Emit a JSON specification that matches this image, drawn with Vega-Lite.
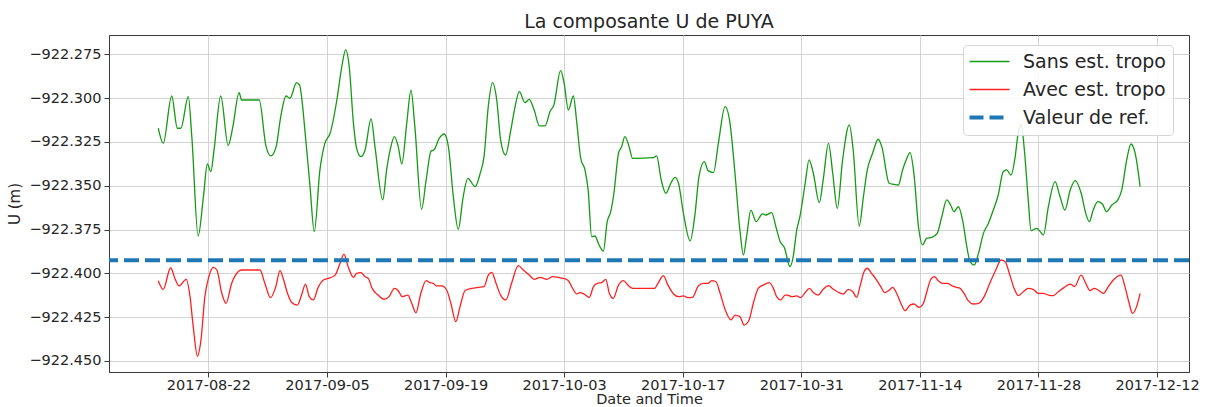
{
  "$schema": "https://vega.github.io/schema/vega-lite/v6.json",
  "width": 1080,
  "height": 337,
  "autosize": {"type": "none"},
  "padding": {"left": 109, "top": 35, "right": 23, "bottom": 35},
  "title": {"text": "La composante U de PUYA", "anchor": "middle"},
  "datasets": {
    "lines": [
      {"t":"2017-08-16T02:00","u":-922.3172,"s":"Sans est. tropo"},
      {"t":"2017-08-16T16:00","u":-922.3258,"s":"Sans est. tropo"},
      {"t":"2017-08-17T16:00","u":-922.2988,"s":"Sans est. tropo"},
      {"t":"2017-08-18T08:00","u":-922.3172,"s":"Sans est. tropo"},
      {"t":"2017-08-18T18:00","u":-922.3172,"s":"Sans est. tropo"},
      {"t":"2017-08-19T15:00","u":-922.2992,"s":"Sans est. tropo"},
      {"t":"2017-08-20T01:00","u":-922.3220,"s":"Sans est. tropo"},
      {"t":"2017-08-20T19:00","u":-922.3787,"s":"Sans est. tropo"},
      {"t":"2017-08-21T10:00","u":-922.3562,"s":"Sans est. tropo"},
      {"t":"2017-08-21T21:00","u":-922.3376,"s":"Sans est. tropo"},
      {"t":"2017-08-22T07:00","u":-922.3420,"s":"Sans est. tropo"},
      {"t":"2017-08-22T16:00","u":-922.3296,"s":"Sans est. tropo"},
      {"t":"2017-08-23T11:00","u":-922.2988,"s":"Sans est. tropo"},
      {"t":"2017-08-24T08:00","u":-922.3271,"s":"Sans est. tropo"},
      {"t":"2017-08-24T21:00","u":-922.3167,"s":"Sans est. tropo"},
      {"t":"2017-08-25T15:00","u":-922.2969,"s":"Sans est. tropo"},
      {"t":"2017-08-25T22:00","u":-922.3011,"s":"Sans est. tropo"},
      {"t":"2017-08-28T00:00","u":-922.3011,"s":"Sans est. tropo"},
      {"t":"2017-08-28T19:00","u":-922.3273,"s":"Sans est. tropo"},
      {"t":"2017-08-29T09:00","u":-922.3330,"s":"Sans est. tropo"},
      {"t":"2017-08-30T00:00","u":-922.3277,"s":"Sans est. tropo"},
      {"t":"2017-08-30T13:00","u":-922.3106,"s":"Sans est. tropo"},
      {"t":"2017-08-31T04:00","u":-922.2988,"s":"Sans est. tropo"},
      {"t":"2017-08-31T15:00","u":-922.3001,"s":"Sans est. tropo"},
      {"t":"2017-09-01T10:00","u":-922.2912,"s":"Sans est. tropo"},
      {"t":"2017-09-01T18:00","u":-922.2925,"s":"Sans est. tropo"},
      {"t":"2017-09-02T12:00","u":-922.3239,"s":"Sans est. tropo"},
      {"t":"2017-09-03T00:00","u":-922.3505,"s":"Sans est. tropo"},
      {"t":"2017-09-03T12:00","u":-922.3762,"s":"Sans est. tropo"},
      {"t":"2017-09-04T04:00","u":-922.3410,"s":"Sans est. tropo"},
      {"t":"2017-09-04T18:00","u":-922.3258,"s":"Sans est. tropo"},
      {"t":"2017-09-05T09:00","u":-922.3201,"s":"Sans est. tropo"},
      {"t":"2017-09-06T04:00","u":-922.3011,"s":"Sans est. tropo"},
      {"t":"2017-09-06T18:00","u":-922.2820,"s":"Sans est. tropo"},
      {"t":"2017-09-07T05:00","u":-922.2725,"s":"Sans est. tropo"},
      {"t":"2017-09-07T15:00","u":-922.2820,"s":"Sans est. tropo"},
      {"t":"2017-09-08T03:00","u":-922.3144,"s":"Sans est. tropo"},
      {"t":"2017-09-08T12:00","u":-922.3287,"s":"Sans est. tropo"},
      {"t":"2017-09-09T00:00","u":-922.3334,"s":"Sans est. tropo"},
      {"t":"2017-09-09T12:00","u":-922.3296,"s":"Sans est. tropo"},
      {"t":"2017-09-10T05:00","u":-922.3119,"s":"Sans est. tropo"},
      {"t":"2017-09-10T16:00","u":-922.3277,"s":"Sans est. tropo"},
      {"t":"2017-09-11T14:00","u":-922.3581,"s":"Sans est. tropo"},
      {"t":"2017-09-12T01:00","u":-922.3410,"s":"Sans est. tropo"},
      {"t":"2017-09-12T11:00","u":-922.3296,"s":"Sans est. tropo"},
      {"t":"2017-09-12T23:00","u":-922.3220,"s":"Sans est. tropo"},
      {"t":"2017-09-13T10:00","u":-922.3277,"s":"Sans est. tropo"},
      {"t":"2017-09-13T20:00","u":-922.3376,"s":"Sans est. tropo"},
      {"t":"2017-09-14T10:00","u":-922.3144,"s":"Sans est. tropo"},
      {"t":"2017-09-14T22:00","u":-922.2954,"s":"Sans est. tropo"},
      {"t":"2017-09-15T09:00","u":-922.3163,"s":"Sans est. tropo"},
      {"t":"2017-09-16T04:00","u":-922.3635,"s":"Sans est. tropo"},
      {"t":"2017-09-16T17:00","u":-922.3467,"s":"Sans est. tropo"},
      {"t":"2017-09-17T07:00","u":-922.3302,"s":"Sans est. tropo"},
      {"t":"2017-09-17T15:00","u":-922.3296,"s":"Sans est. tropo"},
      {"t":"2017-09-18T06:00","u":-922.3230,"s":"Sans est. tropo"},
      {"t":"2017-09-18T20:00","u":-922.3205,"s":"Sans est. tropo"},
      {"t":"2017-09-19T08:00","u":-922.3277,"s":"Sans est. tropo"},
      {"t":"2017-09-19T22:00","u":-922.3562,"s":"Sans est. tropo"},
      {"t":"2017-09-20T12:00","u":-922.3749,"s":"Sans est. tropo"},
      {"t":"2017-09-21T02:00","u":-922.3562,"s":"Sans est. tropo"},
      {"t":"2017-09-21T15:00","u":-922.3458,"s":"Sans est. tropo"},
      {"t":"2017-09-22T12:00","u":-922.3505,"s":"Sans est. tropo"},
      {"t":"2017-09-23T02:00","u":-922.3430,"s":"Sans est. tropo"},
      {"t":"2017-09-23T13:00","u":-922.3334,"s":"Sans est. tropo"},
      {"t":"2017-09-24T01:00","u":-922.3049,"s":"Sans est. tropo"},
      {"t":"2017-09-24T13:00","u":-922.2912,"s":"Sans est. tropo"},
      {"t":"2017-09-25T01:00","u":-922.3011,"s":"Sans est. tropo"},
      {"t":"2017-09-25T12:00","u":-922.3239,"s":"Sans est. tropo"},
      {"t":"2017-09-26T02:00","u":-922.3325,"s":"Sans est. tropo"},
      {"t":"2017-09-26T17:00","u":-922.3182,"s":"Sans est. tropo"},
      {"t":"2017-09-27T05:00","u":-922.3049,"s":"Sans est. tropo"},
      {"t":"2017-09-27T17:00","u":-922.2963,"s":"Sans est. tropo"},
      {"t":"2017-09-28T09:00","u":-922.3026,"s":"Sans est. tropo"},
      {"t":"2017-09-28T21:00","u":-922.3007,"s":"Sans est. tropo"},
      {"t":"2017-09-29T11:00","u":-922.3068,"s":"Sans est. tropo"},
      {"t":"2017-09-30T02:00","u":-922.3159,"s":"Sans est. tropo"},
      {"t":"2017-09-30T18:00","u":-922.3159,"s":"Sans est. tropo"},
      {"t":"2017-10-01T08:00","u":-922.3077,"s":"Sans est. tropo"},
      {"t":"2017-10-01T19:00","u":-922.3039,"s":"Sans est. tropo"},
      {"t":"2017-10-02T14:00","u":-922.2843,"s":"Sans est. tropo"},
      {"t":"2017-10-03T00:00","u":-922.2916,"s":"Sans est. tropo"},
      {"t":"2017-10-03T12:00","u":-922.3068,"s":"Sans est. tropo"},
      {"t":"2017-10-04T02:00","u":-922.2988,"s":"Sans est. tropo"},
      {"t":"2017-10-04T12:00","u":-922.3144,"s":"Sans est. tropo"},
      {"t":"2017-10-04T23:00","u":-922.3344,"s":"Sans est. tropo"},
      {"t":"2017-10-05T11:00","u":-922.3410,"s":"Sans est. tropo"},
      {"t":"2017-10-05T20:00","u":-922.3524,"s":"Sans est. tropo"},
      {"t":"2017-10-06T06:00","u":-922.3791,"s":"Sans est. tropo"},
      {"t":"2017-10-06T15:00","u":-922.3787,"s":"Sans est. tropo"},
      {"t":"2017-10-07T03:00","u":-922.3838,"s":"Sans est. tropo"},
      {"t":"2017-10-07T15:00","u":-922.3873,"s":"Sans est. tropo"},
      {"t":"2017-10-08T02:00","u":-922.3705,"s":"Sans est. tropo"},
      {"t":"2017-10-08T12:00","u":-922.3648,"s":"Sans est. tropo"},
      {"t":"2017-10-08T21:00","u":-922.3543,"s":"Sans est. tropo"},
      {"t":"2017-10-09T10:00","u":-922.3315,"s":"Sans est. tropo"},
      {"t":"2017-10-09T19:00","u":-922.3277,"s":"Sans est. tropo"},
      {"t":"2017-10-10T04:00","u":-922.3220,"s":"Sans est. tropo"},
      {"t":"2017-10-10T16:00","u":-922.3277,"s":"Sans est. tropo"},
      {"t":"2017-10-11T02:00","u":-922.3344,"s":"Sans est. tropo"},
      {"t":"2017-10-13T13:00","u":-922.3340,"s":"Sans est. tropo"},
      {"t":"2017-10-13T22:00","u":-922.3330,"s":"Sans est. tropo"},
      {"t":"2017-10-14T11:00","u":-922.3467,"s":"Sans est. tropo"},
      {"t":"2017-10-15T00:00","u":-922.3543,"s":"Sans est. tropo"},
      {"t":"2017-10-15T15:00","u":-922.3483,"s":"Sans est. tropo"},
      {"t":"2017-10-16T02:00","u":-922.3452,"s":"Sans est. tropo"},
      {"t":"2017-10-16T12:00","u":-922.3486,"s":"Sans est. tropo"},
      {"t":"2017-10-17T02:00","u":-922.3658,"s":"Sans est. tropo"},
      {"t":"2017-10-17T21:00","u":-922.3815,"s":"Sans est. tropo"},
      {"t":"2017-10-18T11:00","u":-922.3658,"s":"Sans est. tropo"},
      {"t":"2017-10-18T22:00","u":-922.3448,"s":"Sans est. tropo"},
      {"t":"2017-10-19T13:00","u":-922.3363,"s":"Sans est. tropo"},
      {"t":"2017-10-20T00:00","u":-922.3414,"s":"Sans est. tropo"},
      {"t":"2017-10-20T15:00","u":-922.3425,"s":"Sans est. tropo"},
      {"t":"2017-10-21T05:00","u":-922.3258,"s":"Sans est. tropo"},
      {"t":"2017-10-22T00:00","u":-922.3049,"s":"Sans est. tropo"},
      {"t":"2017-10-22T14:00","u":-922.3144,"s":"Sans est. tropo"},
      {"t":"2017-10-23T04:00","u":-922.3429,"s":"Sans est. tropo"},
      {"t":"2017-10-23T18:00","u":-922.3753,"s":"Sans est. tropo"},
      {"t":"2017-10-24T04:00","u":-922.3895,"s":"Sans est. tropo"},
      {"t":"2017-10-24T13:00","u":-922.3791,"s":"Sans est. tropo"},
      {"t":"2017-10-25T01:00","u":-922.3639,"s":"Sans est. tropo"},
      {"t":"2017-10-25T16:00","u":-922.3705,"s":"Sans est. tropo"},
      {"t":"2017-10-26T10:00","u":-922.3661,"s":"Sans est. tropo"},
      {"t":"2017-10-26T19:00","u":-922.3667,"s":"Sans est. tropo"},
      {"t":"2017-10-27T12:00","u":-922.3654,"s":"Sans est. tropo"},
      {"t":"2017-10-28T00:00","u":-922.3734,"s":"Sans est. tropo"},
      {"t":"2017-10-28T12:00","u":-922.3819,"s":"Sans est. tropo"},
      {"t":"2017-10-29T00:00","u":-922.3852,"s":"Sans est. tropo"},
      {"t":"2017-10-29T16:00","u":-922.3962,"s":"Sans est. tropo"},
      {"t":"2017-10-30T01:00","u":-922.3905,"s":"Sans est. tropo"},
      {"t":"2017-10-30T11:00","u":-922.3753,"s":"Sans est. tropo"},
      {"t":"2017-10-30T20:00","u":-922.3677,"s":"Sans est. tropo"},
      {"t":"2017-10-31T11:00","u":-922.3486,"s":"Sans est. tropo"},
      {"t":"2017-10-31T22:00","u":-922.3353,"s":"Sans est. tropo"},
      {"t":"2017-11-01T10:00","u":-922.3429,"s":"Sans est. tropo"},
      {"t":"2017-11-02T03:00","u":-922.3597,"s":"Sans est. tropo"},
      {"t":"2017-11-02T14:00","u":-922.3467,"s":"Sans est. tropo"},
      {"t":"2017-11-03T05:00","u":-922.3258,"s":"Sans est. tropo"},
      {"t":"2017-11-03T17:00","u":-922.3429,"s":"Sans est. tropo"},
      {"t":"2017-11-04T06:00","u":-922.3629,"s":"Sans est. tropo"},
      {"t":"2017-11-04T21:00","u":-922.3353,"s":"Sans est. tropo"},
      {"t":"2017-11-05T16:00","u":-922.3153,"s":"Sans est. tropo"},
      {"t":"2017-11-06T03:00","u":-922.3296,"s":"Sans est. tropo"},
      {"t":"2017-11-06T20:00","u":-922.3730,"s":"Sans est. tropo"},
      {"t":"2017-11-07T08:00","u":-922.3562,"s":"Sans est. tropo"},
      {"t":"2017-11-07T19:00","u":-922.3410,"s":"Sans est. tropo"},
      {"t":"2017-11-08T10:00","u":-922.3315,"s":"Sans est. tropo"},
      {"t":"2017-11-09T02:00","u":-922.3235,"s":"Sans est. tropo"},
      {"t":"2017-11-09T12:00","u":-922.3277,"s":"Sans est. tropo"},
      {"t":"2017-11-10T09:00","u":-922.3486,"s":"Sans est. tropo"},
      {"t":"2017-11-10T21:00","u":-922.3492,"s":"Sans est. tropo"},
      {"t":"2017-11-11T11:00","u":-922.3496,"s":"Sans est. tropo"},
      {"t":"2017-11-11T23:00","u":-922.3410,"s":"Sans est. tropo"},
      {"t":"2017-11-12T09:00","u":-922.3353,"s":"Sans est. tropo"},
      {"t":"2017-11-12T20:00","u":-922.3311,"s":"Sans est. tropo"},
      {"t":"2017-11-13T07:00","u":-922.3429,"s":"Sans est. tropo"},
      {"t":"2017-11-13T20:00","u":-922.3734,"s":"Sans est. tropo"},
      {"t":"2017-11-14T08:00","u":-922.3838,"s":"Sans est. tropo"},
      {"t":"2017-11-14T19:00","u":-922.3800,"s":"Sans est. tropo"},
      {"t":"2017-11-15T10:00","u":-922.3795,"s":"Sans est. tropo"},
      {"t":"2017-11-16T01:00","u":-922.3772,"s":"Sans est. tropo"},
      {"t":"2017-11-16T14:00","u":-922.3677,"s":"Sans est. tropo"},
      {"t":"2017-11-17T04:00","u":-922.3581,"s":"Sans est. tropo"},
      {"t":"2017-11-17T15:00","u":-922.3610,"s":"Sans est. tropo"},
      {"t":"2017-11-18T01:00","u":-922.3648,"s":"Sans est. tropo"},
      {"t":"2017-11-18T13:00","u":-922.3620,"s":"Sans est. tropo"},
      {"t":"2017-11-19T01:00","u":-922.3696,"s":"Sans est. tropo"},
      {"t":"2017-11-19T13:00","u":-922.3848,"s":"Sans est. tropo"},
      {"t":"2017-11-19T22:00","u":-922.3933,"s":"Sans est. tropo"},
      {"t":"2017-11-20T10:00","u":-922.3952,"s":"Sans est. tropo"},
      {"t":"2017-11-20T22:00","u":-922.3886,"s":"Sans est. tropo"},
      {"t":"2017-11-21T12:00","u":-922.3772,"s":"Sans est. tropo"},
      {"t":"2017-11-22T02:00","u":-922.3715,"s":"Sans est. tropo"},
      {"t":"2017-11-22T16:00","u":-922.3639,"s":"Sans est. tropo"},
      {"t":"2017-11-23T06:00","u":-922.3553,"s":"Sans est. tropo"},
      {"t":"2017-11-23T20:00","u":-922.3420,"s":"Sans est. tropo"},
      {"t":"2017-11-24T06:00","u":-922.3410,"s":"Sans est. tropo"},
      {"t":"2017-11-24T18:00","u":-922.3439,"s":"Sans est. tropo"},
      {"t":"2017-11-25T06:00","u":-922.3334,"s":"Sans est. tropo"},
      {"t":"2017-11-25T13:00","u":-922.3220,"s":"Sans est. tropo"},
      {"t":"2017-11-25T23:00","u":-922.3153,"s":"Sans est. tropo"},
      {"t":"2017-11-26T08:00","u":-922.3296,"s":"Sans est. tropo"},
      {"t":"2017-11-26T19:00","u":-922.3581,"s":"Sans est. tropo"},
      {"t":"2017-11-27T03:00","u":-922.3756,"s":"Sans est. tropo"},
      {"t":"2017-11-27T19:00","u":-922.3743,"s":"Sans est. tropo"},
      {"t":"2017-11-28T05:00","u":-922.3762,"s":"Sans est. tropo"},
      {"t":"2017-11-28T14:00","u":-922.3781,"s":"Sans est. tropo"},
      {"t":"2017-11-29T04:00","u":-922.3620,"s":"Sans est. tropo"},
      {"t":"2017-11-29T23:00","u":-922.3477,"s":"Sans est. tropo"},
      {"t":"2017-11-30T13:00","u":-922.3562,"s":"Sans est. tropo"},
      {"t":"2017-12-01T03:00","u":-922.3639,"s":"Sans est. tropo"},
      {"t":"2017-12-01T18:00","u":-922.3524,"s":"Sans est. tropo"},
      {"t":"2017-12-02T08:00","u":-922.3471,"s":"Sans est. tropo"},
      {"t":"2017-12-03T01:00","u":-922.3543,"s":"Sans est. tropo"},
      {"t":"2017-12-03T14:00","u":-922.3658,"s":"Sans est. tropo"},
      {"t":"2017-12-04T00:00","u":-922.3705,"s":"Sans est. tropo"},
      {"t":"2017-12-04T11:00","u":-922.3639,"s":"Sans est. tropo"},
      {"t":"2017-12-05T00:00","u":-922.3591,"s":"Sans est. tropo"},
      {"t":"2017-12-05T13:00","u":-922.3604,"s":"Sans est. tropo"},
      {"t":"2017-12-06T01:00","u":-922.3648,"s":"Sans est. tropo"},
      {"t":"2017-12-06T16:00","u":-922.3610,"s":"Sans est. tropo"},
      {"t":"2017-12-07T09:00","u":-922.3581,"s":"Sans est. tropo"},
      {"t":"2017-12-07T20:00","u":-922.3524,"s":"Sans est. tropo"},
      {"t":"2017-12-08T10:00","u":-922.3353,"s":"Sans est. tropo"},
      {"t":"2017-12-08T22:00","u":-922.3262,"s":"Sans est. tropo"},
      {"t":"2017-12-09T10:00","u":-922.3315,"s":"Sans est. tropo"},
      {"t":"2017-12-10T00:00","u":-922.3505,"s":"Sans est. tropo"},

      {"t":"2017-08-16T02:00","u":-922.4042,"s":"Avec est. tropo"},
      {"t":"2017-08-16T16:00","u":-922.4091,"s":"Avec est. tropo"},
      {"t":"2017-08-17T13:00","u":-922.3968,"s":"Avec est. tropo"},
      {"t":"2017-08-18T01:00","u":-922.4029,"s":"Avec est. tropo"},
      {"t":"2017-08-18T13:00","u":-922.4072,"s":"Avec est. tropo"},
      {"t":"2017-08-19T09:00","u":-922.4034,"s":"Avec est. tropo"},
      {"t":"2017-08-19T20:00","u":-922.4133,"s":"Avec est. tropo"},
      {"t":"2017-08-20T05:00","u":-922.4304,"s":"Avec est. tropo"},
      {"t":"2017-08-20T17:00","u":-922.4472,"s":"Avec est. tropo"},
      {"t":"2017-08-21T03:00","u":-922.4380,"s":"Avec est. tropo"},
      {"t":"2017-08-21T14:00","u":-922.4133,"s":"Avec est. tropo"},
      {"t":"2017-08-22T00:00","u":-922.4029,"s":"Avec est. tropo"},
      {"t":"2017-08-22T14:00","u":-922.3966,"s":"Avec est. tropo"},
      {"t":"2017-08-23T00:00","u":-922.3981,"s":"Avec est. tropo"},
      {"t":"2017-08-23T14:00","u":-922.4114,"s":"Avec est. tropo"},
      {"t":"2017-08-24T02:00","u":-922.4171,"s":"Avec est. tropo"},
      {"t":"2017-08-24T18:00","u":-922.4057,"s":"Avec est. tropo"},
      {"t":"2017-08-25T13:00","u":-922.3990,"s":"Avec est. tropo"},
      {"t":"2017-08-25T22:00","u":-922.3981,"s":"Avec est. tropo"},
      {"t":"2017-08-28T02:00","u":-922.3981,"s":"Avec est. tropo"},
      {"t":"2017-08-28T16:00","u":-922.4057,"s":"Avec est. tropo"},
      {"t":"2017-08-29T08:00","u":-922.4139,"s":"Avec est. tropo"},
      {"t":"2017-08-29T23:00","u":-922.4076,"s":"Avec est. tropo"},
      {"t":"2017-08-30T11:00","u":-922.3985,"s":"Avec est. tropo"},
      {"t":"2017-08-30T20:00","u":-922.4029,"s":"Avec est. tropo"},
      {"t":"2017-08-31T08:00","u":-922.4114,"s":"Avec est. tropo"},
      {"t":"2017-08-31T20:00","u":-922.4166,"s":"Avec est. tropo"},
      {"t":"2017-09-01T12:00","u":-922.4181,"s":"Avec est. tropo"},
      {"t":"2017-09-02T00:00","u":-922.4124,"s":"Avec est. tropo"},
      {"t":"2017-09-02T11:00","u":-922.4061,"s":"Avec est. tropo"},
      {"t":"2017-09-02T22:00","u":-922.4133,"s":"Avec est. tropo"},
      {"t":"2017-09-03T09:00","u":-922.4152,"s":"Avec est. tropo"},
      {"t":"2017-09-04T00:00","u":-922.4076,"s":"Avec est. tropo"},
      {"t":"2017-09-04T14:00","u":-922.4038,"s":"Avec est. tropo"},
      {"t":"2017-09-05T04:00","u":-922.4029,"s":"Avec est. tropo"},
      {"t":"2017-09-05T23:00","u":-922.4010,"s":"Avec est. tropo"},
      {"t":"2017-09-06T13:00","u":-922.3943,"s":"Avec est. tropo"},
      {"t":"2017-09-07T00:00","u":-922.3890,"s":"Avec est. tropo"},
      {"t":"2017-09-07T12:00","u":-922.3962,"s":"Avec est. tropo"},
      {"t":"2017-09-08T03:00","u":-922.4023,"s":"Avec est. tropo"},
      {"t":"2017-09-08T12:00","u":-922.4000,"s":"Avec est. tropo"},
      {"t":"2017-09-09T00:00","u":-922.3996,"s":"Avec est. tropo"},
      {"t":"2017-09-09T12:00","u":-922.4019,"s":"Avec est. tropo"},
      {"t":"2017-09-09T21:00","u":-922.4029,"s":"Avec est. tropo"},
      {"t":"2017-09-10T08:00","u":-922.4086,"s":"Avec est. tropo"},
      {"t":"2017-09-11T01:00","u":-922.4124,"s":"Avec est. tropo"},
      {"t":"2017-09-11T18:00","u":-922.4148,"s":"Avec est. tropo"},
      {"t":"2017-09-12T08:00","u":-922.4133,"s":"Avec est. tropo"},
      {"t":"2017-09-12T23:00","u":-922.4086,"s":"Avec est. tropo"},
      {"t":"2017-09-13T10:00","u":-922.4099,"s":"Avec est. tropo"},
      {"t":"2017-09-13T21:00","u":-922.4133,"s":"Avec est. tropo"},
      {"t":"2017-09-14T13:00","u":-922.4124,"s":"Avec est. tropo"},
      {"t":"2017-09-15T00:00","u":-922.4171,"s":"Avec est. tropo"},
      {"t":"2017-09-15T12:00","u":-922.4225,"s":"Avec est. tropo"},
      {"t":"2017-09-16T02:00","u":-922.4114,"s":"Avec est. tropo"},
      {"t":"2017-09-16T17:00","u":-922.4042,"s":"Avec est. tropo"},
      {"t":"2017-09-17T04:00","u":-922.4053,"s":"Avec est. tropo"},
      {"t":"2017-09-17T13:00","u":-922.4057,"s":"Avec est. tropo"},
      {"t":"2017-09-17T23:00","u":-922.4072,"s":"Avec est. tropo"},
      {"t":"2017-09-18T13:00","u":-922.4072,"s":"Avec est. tropo"},
      {"t":"2017-09-19T03:00","u":-922.4095,"s":"Avec est. tropo"},
      {"t":"2017-09-19T15:00","u":-922.4171,"s":"Avec est. tropo"},
      {"t":"2017-09-20T05:00","u":-922.4276,"s":"Avec est. tropo"},
      {"t":"2017-09-20T17:00","u":-922.4190,"s":"Avec est. tropo"},
      {"t":"2017-09-21T07:00","u":-922.4099,"s":"Avec est. tropo"},
      {"t":"2017-09-22T02:00","u":-922.4086,"s":"Avec est. tropo"},
      {"t":"2017-09-22T21:00","u":-922.4080,"s":"Avec est. tropo"},
      {"t":"2017-09-23T13:00","u":-922.4076,"s":"Avec est. tropo"},
      {"t":"2017-09-24T01:00","u":-922.4010,"s":"Avec est. tropo"},
      {"t":"2017-09-24T11:00","u":-922.3994,"s":"Avec est. tropo"},
      {"t":"2017-09-24T23:00","u":-922.4057,"s":"Avec est. tropo"},
      {"t":"2017-09-25T12:00","u":-922.4124,"s":"Avec est. tropo"},
      {"t":"2017-09-26T03:00","u":-922.4152,"s":"Avec est. tropo"},
      {"t":"2017-09-26T19:00","u":-922.4057,"s":"Avec est. tropo"},
      {"t":"2017-09-27T14:00","u":-922.3956,"s":"Avec est. tropo"},
      {"t":"2017-09-28T04:00","u":-922.3981,"s":"Avec est. tropo"},
      {"t":"2017-09-28T21:00","u":-922.4010,"s":"Avec est. tropo"},
      {"t":"2017-09-29T11:00","u":-922.4034,"s":"Avec est. tropo"},
      {"t":"2017-09-30T04:00","u":-922.4023,"s":"Avec est. tropo"},
      {"t":"2017-09-30T23:00","u":-922.4034,"s":"Avec est. tropo"},
      {"t":"2017-10-01T16:00","u":-922.4019,"s":"Avec est. tropo"},
      {"t":"2017-10-02T07:00","u":-922.4023,"s":"Avec est. tropo"},
      {"t":"2017-10-02T22:00","u":-922.4029,"s":"Avec est. tropo"},
      {"t":"2017-10-03T12:00","u":-922.4042,"s":"Avec est. tropo"},
      {"t":"2017-10-04T00:00","u":-922.4086,"s":"Avec est. tropo"},
      {"t":"2017-10-04T12:00","u":-922.4118,"s":"Avec est. tropo"},
      {"t":"2017-10-04T21:00","u":-922.4110,"s":"Avec est. tropo"},
      {"t":"2017-10-05T08:00","u":-922.4118,"s":"Avec est. tropo"},
      {"t":"2017-10-05T23:00","u":-922.4137,"s":"Avec est. tropo"},
      {"t":"2017-10-06T11:00","u":-922.4076,"s":"Avec est. tropo"},
      {"t":"2017-10-06T22:00","u":-922.4057,"s":"Avec est. tropo"},
      {"t":"2017-10-07T10:00","u":-922.4053,"s":"Avec est. tropo"},
      {"t":"2017-10-07T22:00","u":-922.4034,"s":"Avec est. tropo"},
      {"t":"2017-10-08T08:00","u":-922.4114,"s":"Avec est. tropo"},
      {"t":"2017-10-08T19:00","u":-922.4143,"s":"Avec est. tropo"},
      {"t":"2017-10-09T10:00","u":-922.4067,"s":"Avec est. tropo"},
      {"t":"2017-10-10T00:00","u":-922.4042,"s":"Avec est. tropo"},
      {"t":"2017-10-10T14:00","u":-922.4070,"s":"Avec est. tropo"},
      {"t":"2017-10-11T02:00","u":-922.4086,"s":"Avec est. tropo"},
      {"t":"2017-10-13T16:00","u":-922.4086,"s":"Avec est. tropo"},
      {"t":"2017-10-14T03:00","u":-922.4053,"s":"Avec est. tropo"},
      {"t":"2017-10-14T17:00","u":-922.4013,"s":"Avec est. tropo"},
      {"t":"2017-10-15T06:00","u":-922.4067,"s":"Avec est. tropo"},
      {"t":"2017-10-15T22:00","u":-922.4118,"s":"Avec est. tropo"},
      {"t":"2017-10-16T12:00","u":-922.4133,"s":"Avec est. tropo"},
      {"t":"2017-10-17T02:00","u":-922.4129,"s":"Avec est. tropo"},
      {"t":"2017-10-17T14:00","u":-922.4139,"s":"Avec est. tropo"},
      {"t":"2017-10-18T04:00","u":-922.4137,"s":"Avec est. tropo"},
      {"t":"2017-10-18T20:00","u":-922.4072,"s":"Avec est. tropo"},
      {"t":"2017-10-19T11:00","u":-922.4057,"s":"Avec est. tropo"},
      {"t":"2017-10-20T00:00","u":-922.4057,"s":"Avec est. tropo"},
      {"t":"2017-10-20T10:00","u":-922.4042,"s":"Avec est. tropo"},
      {"t":"2017-10-20T22:00","u":-922.4048,"s":"Avec est. tropo"},
      {"t":"2017-10-21T10:00","u":-922.4114,"s":"Avec est. tropo"},
      {"t":"2017-10-22T00:00","u":-922.4206,"s":"Avec est. tropo"},
      {"t":"2017-10-22T17:00","u":-922.4266,"s":"Avec est. tropo"},
      {"t":"2017-10-23T04:00","u":-922.4238,"s":"Avec est. tropo"},
      {"t":"2017-10-23T18:00","u":-922.4247,"s":"Avec est. tropo"},
      {"t":"2017-10-24T06:00","u":-922.4295,"s":"Avec est. tropo"},
      {"t":"2017-10-24T20:00","u":-922.4266,"s":"Avec est. tropo"},
      {"t":"2017-10-25T08:00","u":-922.4171,"s":"Avec est. tropo"},
      {"t":"2017-10-25T22:00","u":-922.4086,"s":"Avec est. tropo"},
      {"t":"2017-10-26T12:00","u":-922.4067,"s":"Avec est. tropo"},
      {"t":"2017-10-27T05:00","u":-922.4053,"s":"Avec est. tropo"},
      {"t":"2017-10-27T17:00","u":-922.4086,"s":"Avec est. tropo"},
      {"t":"2017-10-28T02:00","u":-922.4133,"s":"Avec est. tropo"},
      {"t":"2017-10-28T14:00","u":-922.4152,"s":"Avec est. tropo"},
      {"t":"2017-10-29T02:00","u":-922.4124,"s":"Avec est. tropo"},
      {"t":"2017-10-29T09:00","u":-922.4124,"s":"Avec est. tropo"},
      {"t":"2017-10-29T21:00","u":-922.4133,"s":"Avec est. tropo"},
      {"t":"2017-10-30T11:00","u":-922.4129,"s":"Avec est. tropo"},
      {"t":"2017-10-30T22:00","u":-922.4139,"s":"Avec est. tropo"},
      {"t":"2017-10-31T11:00","u":-922.4110,"s":"Avec est. tropo"},
      {"t":"2017-10-31T23:00","u":-922.4086,"s":"Avec est. tropo"},
      {"t":"2017-11-01T10:00","u":-922.4110,"s":"Avec est. tropo"},
      {"t":"2017-11-02T00:00","u":-922.4124,"s":"Avec est. tropo"},
      {"t":"2017-11-02T14:00","u":-922.4091,"s":"Avec est. tropo"},
      {"t":"2017-11-03T05:00","u":-922.4070,"s":"Avec est. tropo"},
      {"t":"2017-11-03T19:00","u":-922.4091,"s":"Avec est. tropo"},
      {"t":"2017-11-04T09:00","u":-922.4108,"s":"Avec est. tropo"},
      {"t":"2017-11-04T23:00","u":-922.4118,"s":"Avec est. tropo"},
      {"t":"2017-11-05T13:00","u":-922.4091,"s":"Avec est. tropo"},
      {"t":"2017-11-06T02:00","u":-922.4105,"s":"Avec est. tropo"},
      {"t":"2017-11-06T13:00","u":-922.4137,"s":"Avec est. tropo"},
      {"t":"2017-11-06T22:00","u":-922.4076,"s":"Avec est. tropo"},
      {"t":"2017-11-07T10:00","u":-922.3990,"s":"Avec est. tropo"},
      {"t":"2017-11-07T19:00","u":-922.3971,"s":"Avec est. tropo"},
      {"t":"2017-11-08T07:00","u":-922.4000,"s":"Avec est. tropo"},
      {"t":"2017-11-08T20:00","u":-922.4034,"s":"Avec est. tropo"},
      {"t":"2017-11-09T09:00","u":-922.4076,"s":"Avec est. tropo"},
      {"t":"2017-11-09T21:00","u":-922.4110,"s":"Avec est. tropo"},
      {"t":"2017-11-10T07:00","u":-922.4099,"s":"Avec est. tropo"},
      {"t":"2017-11-10T19:00","u":-922.4080,"s":"Avec est. tropo"},
      {"t":"2017-11-11T06:00","u":-922.4114,"s":"Avec est. tropo"},
      {"t":"2017-11-11T18:00","u":-922.4171,"s":"Avec est. tropo"},
      {"t":"2017-11-12T06:00","u":-922.4213,"s":"Avec est. tropo"},
      {"t":"2017-11-12T20:00","u":-922.4181,"s":"Avec est. tropo"},
      {"t":"2017-11-13T07:00","u":-922.4175,"s":"Avec est. tropo"},
      {"t":"2017-11-13T22:00","u":-922.4194,"s":"Avec est. tropo"},
      {"t":"2017-11-14T10:00","u":-922.4171,"s":"Avec est. tropo"},
      {"t":"2017-11-14T21:00","u":-922.4095,"s":"Avec est. tropo"},
      {"t":"2017-11-15T06:00","u":-922.4038,"s":"Avec est. tropo"},
      {"t":"2017-11-15T17:00","u":-922.4019,"s":"Avec est. tropo"},
      {"t":"2017-11-16T04:00","u":-922.4042,"s":"Avec est. tropo"},
      {"t":"2017-11-16T17:00","u":-922.4057,"s":"Avec est. tropo"},
      {"t":"2017-11-17T06:00","u":-922.4057,"s":"Avec est. tropo"},
      {"t":"2017-11-17T18:00","u":-922.4070,"s":"Avec est. tropo"},
      {"t":"2017-11-18T08:00","u":-922.4080,"s":"Avec est. tropo"},
      {"t":"2017-11-18T18:00","u":-922.4086,"s":"Avec est. tropo"},
      {"t":"2017-11-19T05:00","u":-922.4114,"s":"Avec est. tropo"},
      {"t":"2017-11-19T17:00","u":-922.4156,"s":"Avec est. tropo"},
      {"t":"2017-11-20T07:00","u":-922.4175,"s":"Avec est. tropo"},
      {"t":"2017-11-20T23:00","u":-922.4171,"s":"Avec est. tropo"},
      {"t":"2017-11-21T14:00","u":-922.4133,"s":"Avec est. tropo"},
      {"t":"2017-11-22T06:00","u":-922.4057,"s":"Avec est. tropo"},
      {"t":"2017-11-22T23:00","u":-922.3981,"s":"Avec est. tropo"},
      {"t":"2017-11-23T14:00","u":-922.3924,"s":"Avec est. tropo"},
      {"t":"2017-11-24T01:00","u":-922.3933,"s":"Avec est. tropo"},
      {"t":"2017-11-24T15:00","u":-922.4010,"s":"Avec est. tropo"},
      {"t":"2017-11-25T03:00","u":-922.4086,"s":"Avec est. tropo"},
      {"t":"2017-11-25T15:00","u":-922.4127,"s":"Avec est. tropo"},
      {"t":"2017-11-26T05:00","u":-922.4105,"s":"Avec est. tropo"},
      {"t":"2017-11-26T19:00","u":-922.4086,"s":"Avec est. tropo"},
      {"t":"2017-11-27T09:00","u":-922.4091,"s":"Avec est. tropo"},
      {"t":"2017-11-27T23:00","u":-922.4114,"s":"Avec est. tropo"},
      {"t":"2017-11-28T14:00","u":-922.4114,"s":"Avec est. tropo"},
      {"t":"2017-11-29T04:00","u":-922.4124,"s":"Avec est. tropo"},
      {"t":"2017-11-29T18:00","u":-922.4127,"s":"Avec est. tropo"},
      {"t":"2017-11-30T08:00","u":-922.4105,"s":"Avec est. tropo"},
      {"t":"2017-12-01T01:00","u":-922.4080,"s":"Avec est. tropo"},
      {"t":"2017-12-01T18:00","u":-922.4061,"s":"Avec est. tropo"},
      {"t":"2017-12-02T06:00","u":-922.4076,"s":"Avec est. tropo"},
      {"t":"2017-12-03T01:00","u":-922.4010,"s":"Avec est. tropo"},
      {"t":"2017-12-03T14:00","u":-922.4057,"s":"Avec est. tropo"},
      {"t":"2017-12-04T02:00","u":-922.4099,"s":"Avec est. tropo"},
      {"t":"2017-12-04T14:00","u":-922.4086,"s":"Avec est. tropo"},
      {"t":"2017-12-05T01:00","u":-922.4095,"s":"Avec est. tropo"},
      {"t":"2017-12-05T16:00","u":-922.4114,"s":"Avec est. tropo"},
      {"t":"2017-12-06T06:00","u":-922.4076,"s":"Avec est. tropo"},
      {"t":"2017-12-06T20:00","u":-922.4038,"s":"Avec est. tropo"},
      {"t":"2017-12-07T18:00","u":-922.4010,"s":"Avec est. tropo"},
      {"t":"2017-12-08T05:00","u":-922.4076,"s":"Avec est. tropo"},
      {"t":"2017-12-08T17:00","u":-922.4171,"s":"Avec est. tropo"},
      {"t":"2017-12-09T02:00","u":-922.4228,"s":"Avec est. tropo"},
      {"t":"2017-12-09T14:00","u":-922.4190,"s":"Avec est. tropo"},
      {"t":"2017-12-10T00:00","u":-922.4114,"s":"Avec est. tropo"}
    ],
    "ref": [
      {"u": -922.3926, "s": "Valeur de ref."}
    ]
  },
  "layer": [
    {
      "data": {"name": "lines"},
      "mark": {"type": "line", "interpolate": "monotone", "strokeWidth": 1.3},
      "encoding": {
        "x": {
          "field": "t", "type": "temporal", "title": "Date and Time",
          "scale": {"domain": [{"year": 2017, "month": 8, "date": 10, "hours": 6, "minutes": 22}, {"year": 2017, "month": 12, "date": 15, "hours": 18, "minutes": 30}]},
          "axis": {
            "format": "%Y-%m-%d",
            "values": [
              {"year": 2017, "month": 8, "date": 22},
              {"year": 2017, "month": 9, "date": 5},
              {"year": 2017, "month": 9, "date": 19},
              {"year": 2017, "month": 10, "date": 3},
              {"year": 2017, "month": 10, "date": 17},
              {"year": 2017, "month": 10, "date": 31},
              {"year": 2017, "month": 11, "date": 14},
              {"year": 2017, "month": 11, "date": 28},
              {"year": 2017, "month": 12, "date": 12}
            ],
            "labelPadding": 1,
            "titleY": 31,
            "titleFontSize": 14.5,
            "titleBaseline": "alphabetic"
          }
        },
        "y": {
          "field": "u", "type": "quantitative", "title": "U (m)",
          "scale": {"domain": [-922.4563, -922.2640], "zero": false, "nice": false},
          "axis": {
            "format": ".3f",
            "values": [-922.45, -922.425, -922.4, -922.375, -922.35, -922.325, -922.3, -922.275],
            "labelPadding": 3,
            "titlePadding": 6
          }
        },
        "color": {
          "field": "s", "type": "nominal",
          "scale": {"domain": ["Sans est. tropo", "Avec est. tropo", "Valeur de ref."], "range": ["#139b13", "#ff2020", "#1f77b4"]},
          "legend": {
            "title": null, "orient": "none", "legendX": 854, "legendY": 10,
            "symbolType": "M-1,0L3,0", "symbolSize": 400, "labelOffset": 34,
            "encode": {
              "symbols": {
                "update": {
                  "strokeDash": {"signal": "datum.value === 'Valeur de ref.' ? [14, 6] : [1, 0]"},
                  "strokeWidth": {"signal": "datum.value === 'Valeur de ref.' ? 4 : 1.4"}
                }
              }
            }
          }
        },
        "detail": {"field": "s", "type": "nominal"}
      }
    },
    {
      "data": {"name": "ref"},
      "mark": {"type": "rule", "strokeWidth": 4, "strokeDash": [15, 6]},
      "encoding": {
        "y": {"field": "u", "type": "quantitative"},
        "color": {"field": "s", "type": "nominal"}
      }
    }
  ],
  "config": {
    "font": "DejaVu Sans",
    "background": "white",
    "view": {"stroke": "#3a3a3a", "strokeWidth": 1},
    "axis": {
      "labelFontSize": 14.5,
      "labelColor": "#262626",
      "titleFontSize": 15,
      "titleFontWeight": "normal",
      "titleColor": "#262626",
      "gridColor": "#d3d3d3",
      "gridWidth": 1,
      "domainColor": "#3a3a3a",
      "tickColor": "#3a3a3a",
      "tickSize": 5,
      "labelFlush": false,
      "labelOverlap": false
    },
    "title": {"fontSize": 19, "fontWeight": "normal", "color": "#262626", "offset": 3},
    "legend": {
      "labelFontSize": 19,
      "labelColor": "#262626",
      "fillColor": "rgba(255,255,255,0.85)",
      "strokeColor": "#d5d5d5",
      "cornerRadius": 4,
      "padding": 7,
      "rowPadding": 8,
      "labelLimit": 400
    }
  }
}
